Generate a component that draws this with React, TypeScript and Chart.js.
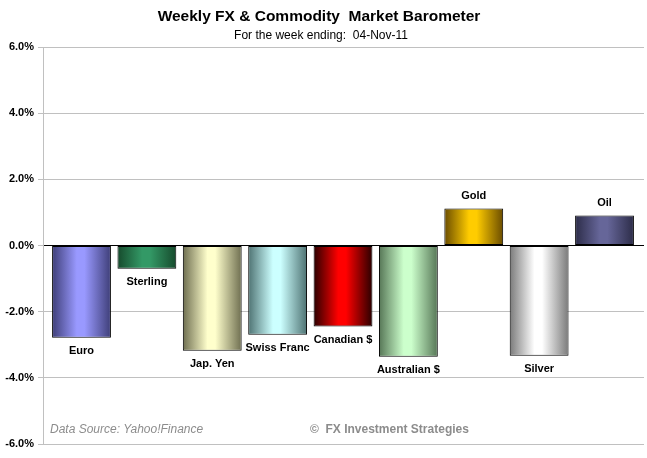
import React, { useEffect, useRef } from "react";
import { Chart, registerables } from "chart.js";

Chart.register(...registerables);

const categories = ["Euro", "Sterling", "Jap. Yen", "Swiss Franc", "Canadian $", "Australian $", "Gold", "Silver", "Oil"];
const weeklyChange = [-2.79, -0.70, -3.18, -2.70, -2.45, -3.36, 1.12, -3.33, 0.91];
const edgeColors = ["#3e3e78", "#164a2c", "#6e6e50", "#4e7272", "#2a0000", "#567656", "#6a4c00", "#7a7a7a", "#2c2c48"];
const midColors = ["#9999ff", "#339966", "#ffffcc", "#ccffff", "#ff0000", "#ccffcc", "#ffcc00", "#ffffff", "#666699"];
const yTicks = [-6, -4, -2, 0, 2, 4, 6];

const titleText = "Weekly FX & Commodity  Market Barometer";
const subtitleText = "For the week ending:  04-Nov-11";
const sourceText = "Data Source: Yahoo!Finance";
const copyrightText = "\u00A9  FX Investment Strategies";

const FONT = "Arial, 'Liberation Sans', sans-serif";

export default function App() {
  const ref = useRef<HTMLCanvasElement | null>(null);
  useEffect(() => {
    const canvas = ref.current!;
    const textPlugin = {
      id: "texts",
      afterDatasetsDraw(chart: any) {
        const ctx = chart.ctx;
        const xs = chart.scales.x;
        const ys = chart.scales.y;
        ctx.save();
        ctx.fillStyle = "#000";
        ctx.font = `bold 11px ${FONT}`;
        ctx.textAlign = "center";
        ctx.textBaseline = "middle";
        weeklyChange.forEach((v, i) => {
          const x = xs.getPixelForValue(i);
          const yEnd = ys.getPixelForValue(v);
          const y = v < 0 ? yEnd + 13 : yEnd - 12;
          ctx.fillText(categories[i], x, y);
        });
        ctx.font = `bold 15.5px ${FONT}`;
        ctx.fillText(titleText, 319, 17);
        ctx.font = `12px ${FONT}`;
        ctx.fillText(subtitleText, 321, 36);
        ctx.textAlign = "left";
        ctx.fillStyle = "#8c8c8c";
        ctx.font = `italic 12px ${FONT}`;
        ctx.fillText(sourceText, 50, 430);
        ctx.font = `bold 12px ${FONT}`;
        ctx.fillText(copyrightText, 310, 430);
        ctx.restore();
      },
    };
    const chart = new Chart(canvas, {
      type: "bar",
      data: {
        datasets: [
          {
            data: weeklyChange.map((v, i) => ({ x: i, y: v })),
            backgroundColor: (c: any) => {
              const ch = c.chart;
              const xs = ch.scales && ch.scales.x;
              const i = c.dataIndex;
              if (!xs || i === undefined) return midColors[0];
              const cx = xs.getPixelForValue(i);
              const w = (xs.getPixelForValue(1) - xs.getPixelForValue(0)) * 0.9;
              if (!isFinite(cx) || !isFinite(w) || w <= 0) return midColors[i];
              const g = ch.ctx.createLinearGradient(cx - w / 2, 0, cx + w / 2, 0);
              g.addColorStop(0, edgeColors[i]);
              g.addColorStop(0.42, midColors[i]);
              g.addColorStop(0.55, midColors[i]);
              g.addColorStop(1, edgeColors[i]);
              return g;
            },
            borderColor: "#000",
            borderWidth: 1,
            borderSkipped: false,
            barPercentage: 0.9,
            categoryPercentage: 1,
          } as any,
        ],
      },
      options: {
        animation: false,
        responsive: false,
        devicePixelRatio: 1,
        layout: { padding: { top: 47, right: 3, bottom: 14, left: 0 } },
        plugins: { legend: { display: false }, tooltip: { enabled: false }, title: { display: false } },
        scales: {
          x: {
            type: "linear",
            min: -0.589,
            max: 8.604,
            offset: false,
            display: true,
            grid: { display: false, drawTicks: false, offset: false },
            border: { display: false },
            ticks: { display: false },
            afterFit: (s: any) => {
              s.height = 0;
            },
          },
          y: {
            min: -6,
            max: 6,
            afterBuildTicks: (s: any) => {
              s.ticks = yTicks.map((v) => ({ value: v }));
            },
            afterFit: (s: any) => {
              s.width = 43;
            },
            ticks: {
              callback: (v: any) => Number(v).toFixed(1) + "%",
              font: { family: FONT, size: 11, weight: "bold" },
              color: "#000",
              padding: 4,
            },
            grid: {
              color: (c: any) => (c.tick && c.tick.value === 0 ? "#000" : "#c0c0c0"),
              lineWidth: 1,
              tickLength: 5,
              tickColor: "#c0c0c0",
            },
            border: { display: true, color: "#c0c0c0" },
          },
        },
      },
      plugins: [textPlugin],
    } as any);
    return () => chart.destroy();
  }, []);
  return (
    <div style={{ position: "fixed", left: 0, top: 0, width: 647, height: 458, background: "#fff" }}>
      <canvas ref={ref} width={647} height={458} style={{ width: 647, height: 458, display: "block" }} />
    </div>
  );
}
